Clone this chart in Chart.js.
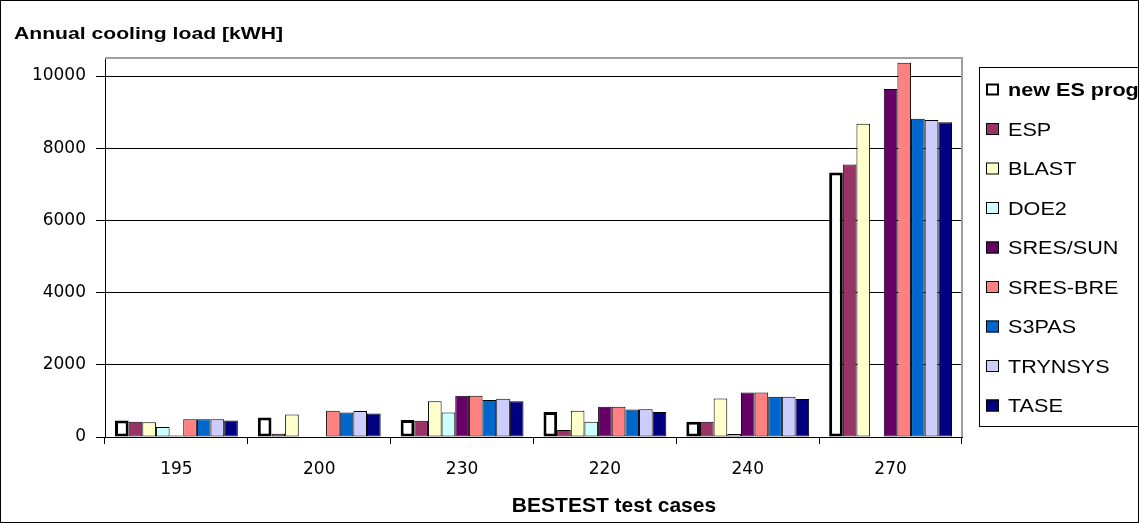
<!DOCTYPE html>
<html>
<head>
<meta charset="utf-8">
<title>Annual cooling load - BESTEST test cases</title>
<script src="https://cdn.jsdelivr.net/npm/chart.js@4/dist/chart.umd.min.js"></script>
<style>
  html, body { margin: 0; padding: 0; background: #ffffff; }
  canvas { display: block; }
</style>
</head>
<body>
<canvas id="chart" width="1139" height="523"></canvas>
<script>
// Test cases along the x axis
const categories = ['195', '200', '230', '220', '240', '270'];

// Annual cooling load per program [kWh]
const newES   = [460, 540, 470, 690, 425, 7330];
const esp     = [420, 90, 450, 195, 420, 7550];
const blast   = [410, 620, 990, 730, 1070, 8680];
const doe2    = [275, null, 680, 425, 85, null];
const sresSun = [45, null, 1145, 840, 1235, 9640];
const sresBre = [490, 730, 1145, 840, 1230, 10370];
const s3pas   = [490, 680, 1025, 765, 1115, 8820];
const trynsys = [495, 720, 1060, 770, 1115, 8785];
const tase    = [455, 650, 990, 690, 1050, 8720];

// Y axis tick labels
const yTicks = [0, 2000, 4000, 6000, 8000, 10000];

const seriesNames = ['new ES prog', 'ESP', 'BLAST', 'DOE2', 'SRES/SUN', 'SRES-BRE', 'S3PAS', 'TRYNSYS', 'TASE'];
const seriesData  = [newES, esp, blast, doe2, sresSun, sresBre, s3pas, trynsys, tase];
const seriesFill  = ['#ffffff', '#993366', '#ffffcc', '#ccffff', '#660066', '#ff8080', '#0066cc', '#ccccff', '#000080'];

const datasets = seriesNames.map((name, i) => ({
  label: name,
  data: seriesData[i],
  backgroundColor: seriesFill[i],
  borderColor: '#000000',
  borderWidth: i === 0 ? 3 : 1,
  borderSkipped: false,
  categoryPercentage: 0.86,
  barPercentage: 1.0
}));

// Frame, titles and legend drawn around the plot
const decorations = {
  id: 'decorations',
  beforeDraw(chart) {
    const ctx = chart.ctx;
    ctx.save();
    ctx.fillStyle = '#ffffff';
    ctx.fillRect(0, 0, chart.width, chart.height);
    ctx.restore();
  },
  afterDraw(chart) {
    const ctx = chart.ctx;
    const a = chart.chartArea;
    ctx.save();

    // plot area frame (top and right edges)
    ctx.strokeStyle = '#a0a0a0';
    ctx.lineWidth = 2;
    ctx.beginPath();
    ctx.moveTo(a.left, a.top);
    ctx.lineTo(a.right, a.top);
    ctx.lineTo(a.right, a.bottom);
    ctx.stroke();

    // outer chart frame
    ctx.strokeStyle = '#000000';
    ctx.lineWidth = 1;
    ctx.strokeRect(0.5, 0.5, chart.width - 1, chart.height - 1);

    // helper: text stretched horizontally to a given width
    function stretchedText(text, x, y, font, width, align) {
      ctx.font = font;
      const w = ctx.measureText(text).width;
      const sx = width ? width / w : 1;
      ctx.save();
      ctx.translate(x, y);
      ctx.scale(sx, 1);
      ctx.textAlign = align || 'left';
      ctx.textBaseline = 'alphabetic';
      ctx.fillStyle = '#000000';
      ctx.fillText(text, 0, 0);
      ctx.restore();
    }

    // y axis title
    stretchedText('Annual cooling load [kWH]', 14, 39, 'bold 17px "Liberation Sans"', 269, 'left');
    // x axis title
    stretchedText('BESTEST test cases', 614, 512, 'bold 21px "Liberation Sans"', 0, 'center');

    // legend box
    const lx = 979.5, ly = 67.5, lh = 359;
    ctx.strokeStyle = '#000000';
    ctx.lineWidth = 1;
    ctx.strokeRect(lx, ly, 400, lh);

    chart.data.datasets.forEach((ds, i) => {
      const cy = 89.5 + i * 39.5;
      // marker
      ctx.fillStyle = ds.backgroundColor;
      ctx.fillRect(986, cy - 6, 13, 12);
      ctx.strokeStyle = '#000000';
      if (i === 0) {
        ctx.lineWidth = 2;
        ctx.strokeRect(987, cy - 5, 11, 10);
      } else {
        ctx.lineWidth = 1;
        ctx.strokeRect(986.5, cy - 5.5, 12, 11);
      }
      // label
      ctx.font = (i === 0 ? 'bold ' : '') + '18px "Liberation Sans"';
      ctx.save();
      ctx.translate(1008, cy + 6.5);
      ctx.scale(1.2, 1);
      ctx.fillStyle = '#000000';
      ctx.textAlign = 'left';
      ctx.textBaseline = 'alphabetic';
      ctx.fillText(ds.label, 0, 0);
      ctx.restore();
    });

    ctx.restore();
  }
};

Chart.defaults.font.family = '"DejaVu Sans"';
Chart.defaults.color = '#000000';

new Chart(document.getElementById('chart'), {
  type: 'bar',
  data: { labels: categories, datasets: datasets },
  options: {
    responsive: false,
    devicePixelRatio: 1,
    animation: false,
    layout: { padding: { left: 0, top: 58, right: 177, bottom: 0 } },
    plugins: {
      legend: { display: false },
      title: { display: false },
      tooltip: { enabled: false }
    },
    scales: {
      x: {
        offset: true,
        grid: {
          offset: true,
          drawOnChartArea: false,
          drawTicks: true,
          tickLength: 7,
          color: '#000000'
        },
        border: { display: true, color: '#000000', width: 1 },
        ticks: { font: { size: 17 }, padding: 15, color: '#000000', maxRotation: 0 },
        afterFit(scale) { scale.height = 86; }
      },
      y: {
        min: 0,
        max: 10500,
        grid: {
          color: '#000000',
          lineWidth: 1,
          drawTicks: true,
          tickLength: 9
        },
        border: { display: true, color: '#000000', width: 1 },
        ticks: {
          font: { size: 17 },
          padding: 10,
          color: '#000000',
          callback: (v) => String(v)
        },
        afterBuildTicks(scale) { scale.ticks = yTicks.map(v => ({ value: v })); },
        afterFit(scale) { scale.width = 105; }
      }
    }
  },
  plugins: [decorations]
});
</script>
</body>
</html>
